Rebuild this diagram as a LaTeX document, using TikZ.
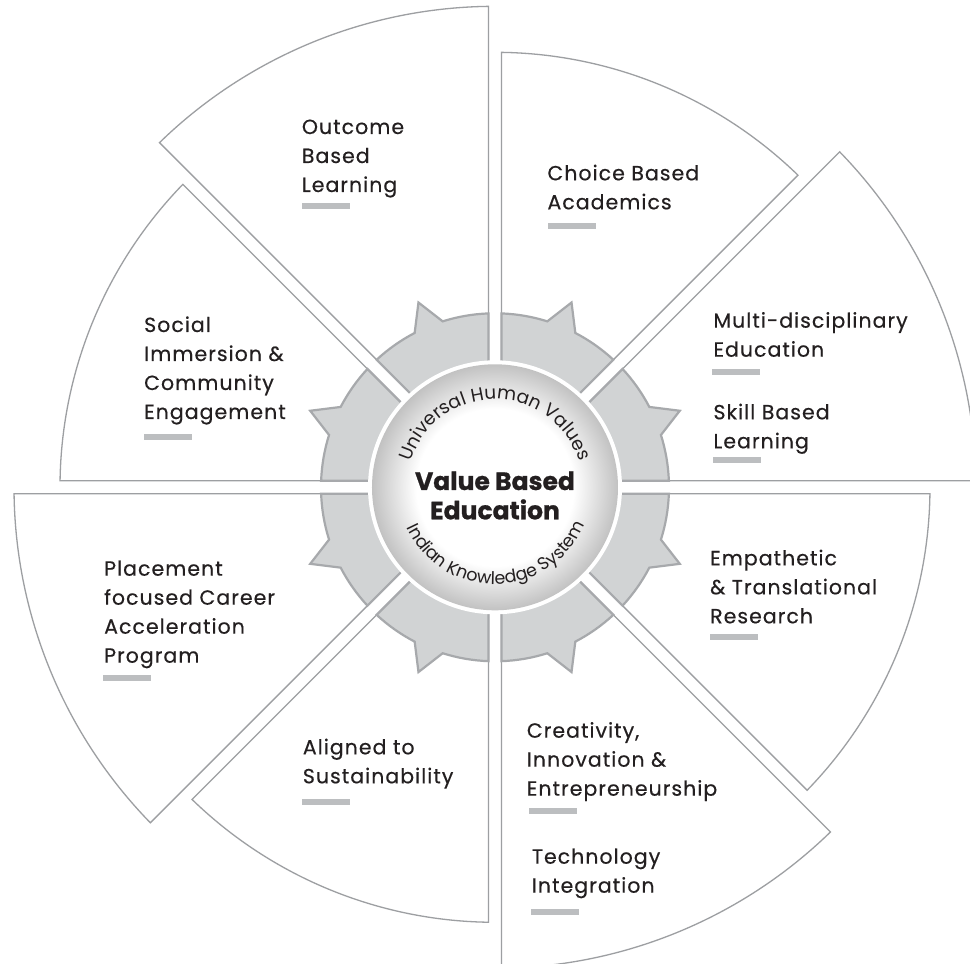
\documentclass[tikz,border=0pt]{standalone}
\usepackage{fontspec}
\setmainfont{Poppins}
\usepackage{xcolor}
\usepackage{tikz}
\usetikzlibrary{decorations.text}

\definecolor{petalline}{HTML}{9D9FA2}
\definecolor{cogfill}{HTML}{D1D3D4}
\definecolor{cogline}{HTML}{A7A9AC}
\definecolor{barfill}{HTML}{BCBEC0}
\definecolor{inkblack}{HTML}{231F20}

\pgfdeclareradialshading{hubglow}{\pgfpoint{0bp}{0bp}}{%
  color(0bp)=(white); color(16bp)=(white); color(25bp)=(black!24); color(50bp)=(black!24)}

% one wedge of the wheel: start angle, outer radius
\newcommand{\petal}[2]{(#1+22.5:17) -- ({#1+asin(6.5/#2)}:#2)
  arc[start angle={#1+asin(6.5/#2)}, end angle={#1+45-asin(6.5/#2)}, radius=#2] -- cycle}
% one piece of the cog, with its tooth in the middle
\newcommand{\cogpiece}[1]{(#1+22.5:17) -- ({#1+asin(6.5/174)}:174)
  arc[start angle={#1+asin(6.5/174)}, end angle={#1+17.5}, radius=174]
  -- (#1+22.5:200) -- (#1+27.5:174)
  arc[start angle={#1+27.5}, end angle={#1+45-asin(6.5/174)}, radius=174] -- cycle}

\newfontfamily\topicfont{Poppins}[FakeBold=0.4, LetterSpace=5]
\newfontfamily\curvefont{Poppins}

\tikzset{
  petal/.style={fill=white, draw=petalline, line width=1.3pt},
  cog/.style={fill=cogfill, draw=cogline, line width=2.2pt, line join=miter},
  topic/.style={anchor=base west, align=left, inner sep=0pt, text=inkblack,
    font=\topicfont\fontsize{20.5}{29}\selectfont},
  hubtext/.style={anchor=base, align=center, inner sep=0pt, text=inkblack,
    font=\fontsize{25}{29.3}\selectfont\bfseries\addfontfeature{FakeBold=0.8}}
}

\begin{document}
\begin{tikzpicture}[x=1pt, y=1pt]
\useasboundingbox (-495,-476.7) rectangle (475,487.3);
\fill[white] (-495,-476.7) rectangle (475,487.3);

\foreach \a/\r in {0/481,45/435,90/481,135/435,180/481,225/435,270/481,315/435}
  \draw[petal] \petal{\a}{\r};

\foreach \a in {0,45,...,315}
  \draw[cog] \cogpiece{\a};

\fill[white] (0,0) circle (127);
\shade[shading=hubglow] (0,0) circle (123);

\path[decorate, decoration={text along path, text align=center,
    text={|\color{inkblack}\curvefont\fontsize{18.5}{18.5}\selectfont|Universal Human Values}}]
  (180:88) arc[start angle=180, end angle=0, radius=88];
\path[decorate, decoration={text along path, text align=center,
    text={|\color{inkblack}\curvefont\fontsize{17.5}{17.5}\selectfont|Indian Knowledge System}}]
  (182:97) arc[start angle=182, end angle=360, radius=97];

\node[hubtext] (vbe) at (0,-32) {Value Based\\Education};

\node[topic] (obl) at (-193.3,295.3) {Outcome\\Based\\Learning};
\node[topic] (cba) at (52.3,278) {Choice Based\\Academics};
\node[topic] (mde) at (218.3,130.6) {Multi-disciplinary\\Education};
\node[topic] (sbl) at (218.3,39) {Skill Based\\Learning};
\node[topic] (sic) at (-351,68.3) {Social\\Immersion \&\\Community\\Engagement};
\node[topic] (etr) at (215,-136) {Empathetic\\\& Translational\\Research};
\node[topic] (pfc) at (-391,-175.4) {Placement\\focused Career\\Acceleration\\Program};
\node[topic] (ats) at (-192.3,-296) {Aligned to\\Sustainability};
\node[topic] (cie) at (31.7,-308.4) {Creativity,\\Innovation \&\\Entrepreneurship};
\node[topic] (tin) at (36.7,-405.4) {Technology\\Integration};

\foreach \x/\y in {-193.3/284.3, 53/264, 217/118, 218/30, -351/53.3,
    215/-146.7, -392/-187.7, -192.7/-311.7, 34/-321, 36/-422}
  \fill[barfill] (\x,\y) rectangle ++(48,-6);
\end{tikzpicture}
\end{document}
